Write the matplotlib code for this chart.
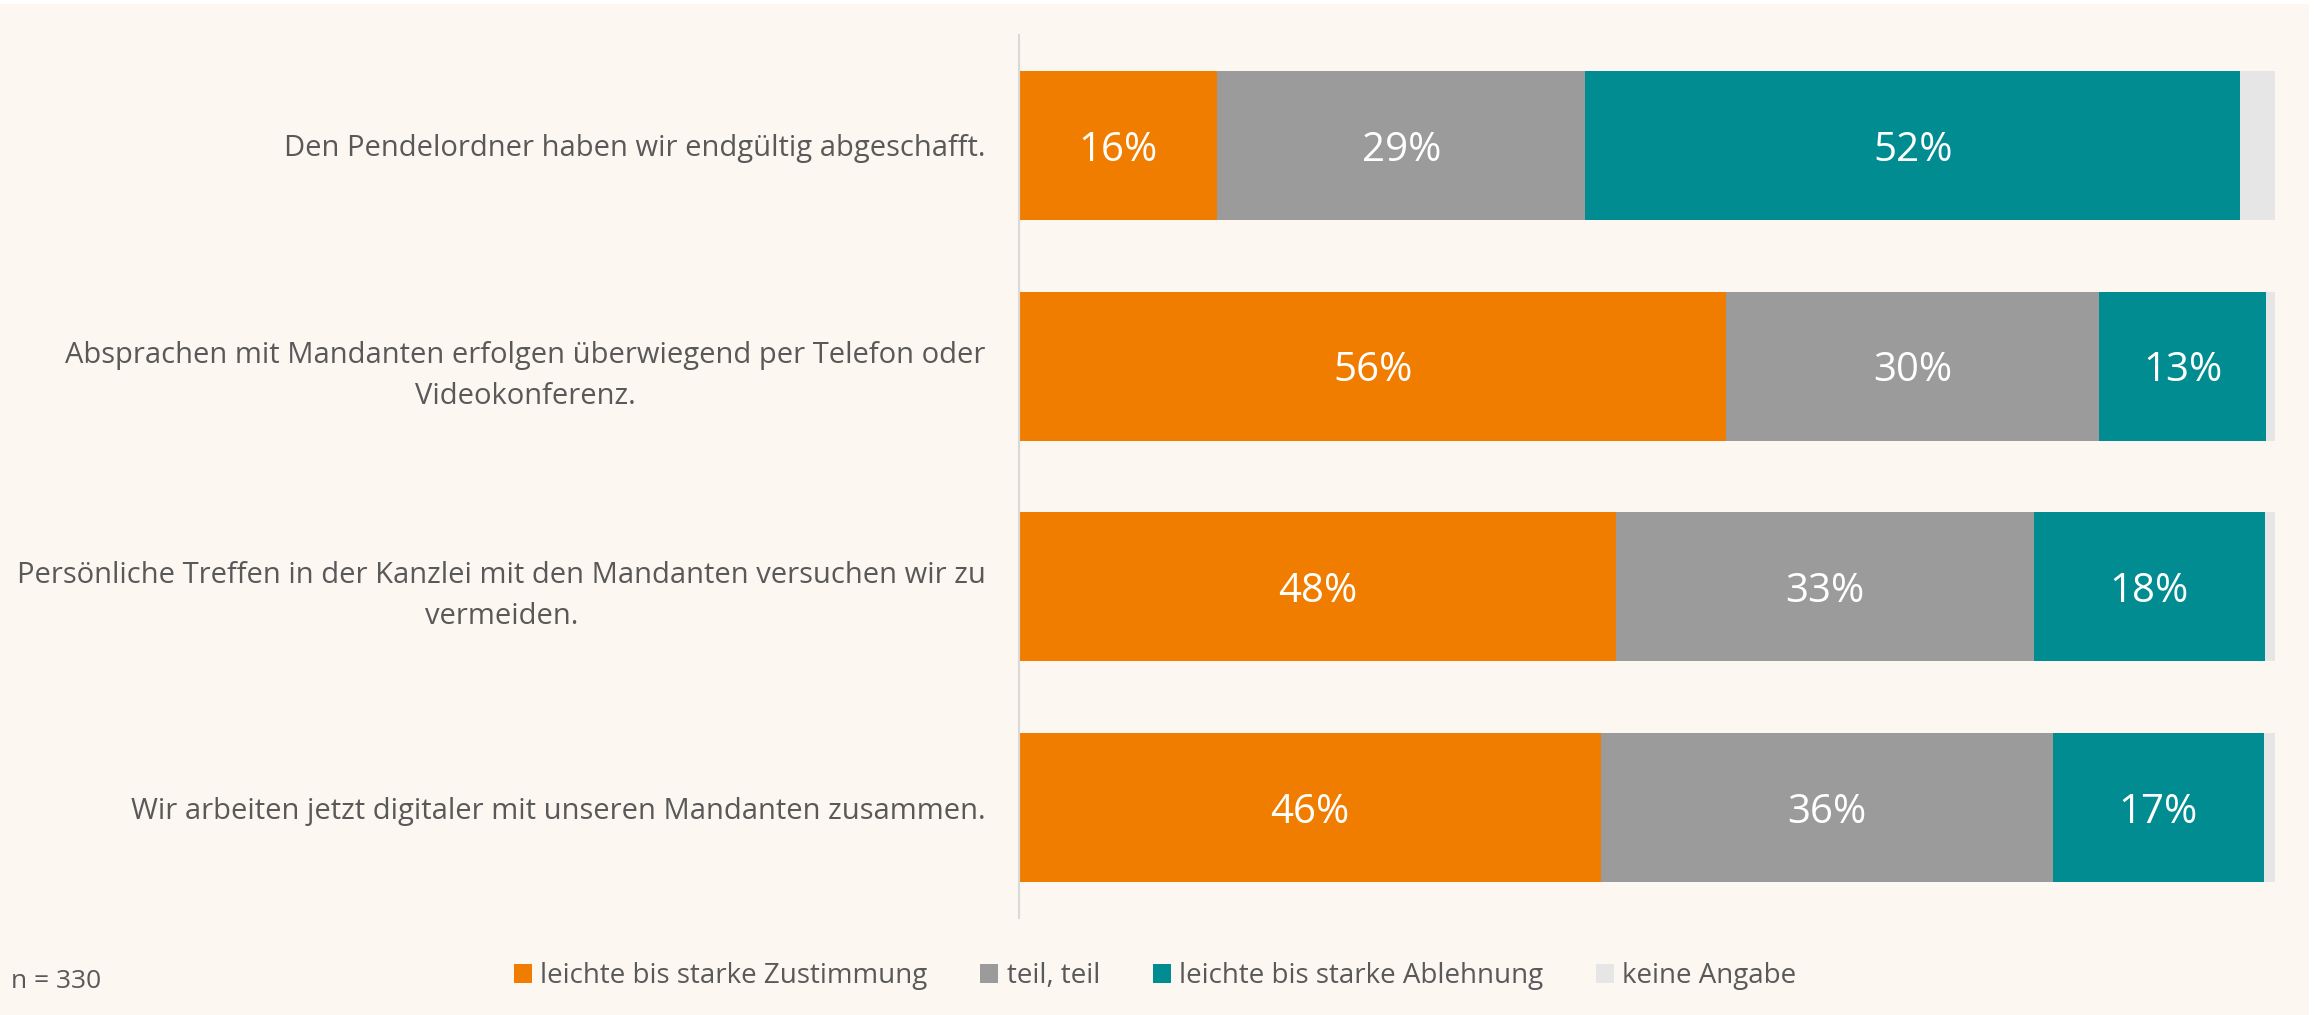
import matplotlib
matplotlib.use("Agg")
import matplotlib.pyplot as plt
from matplotlib.patches import Patch, Rectangle
import numpy as np

plt.rcParams['font.family'] = ['Open Sans', 'DejaVu Sans']

# Daten (Anteile in %)
aussagen = [
    "Den Pendelordner haben wir endgültig abgeschafft.",
    "Absprachen mit Mandanten erfolgen überwiegend per Telefon oder\nVideokonferenz.",
    "Persönliche Treffen in der Kanzlei mit den Mandanten versuchen wir zu\nvermeiden.",
    "Wir arbeiten jetzt digitaler mit unseren Mandanten zusammen.",
]
kategorien = ["leichte bis starke Zustimmung", "teil, teil",
              "leichte bis starke Ablehnung", "keine Angabe"]
zustimmung = [15.8, 56.3, 47.5, 46.3]
teils = [29.3, 29.7, 33.3, 36.0]
ablehnung = [52.1, 13.3, 18.4, 16.8]
keine_angabe = [2.8, 0.7, 0.8, 0.9]
beschriftung = ["16%", "56%", "48%", "46%",
                "29%", "30%", "33%", "36%",
                "52%", "13%", "18%", "17%"]

farben = ["#F07D00", "#9B9B9B", "#008C91", "#E6E6E6"]
hintergrund = "#FCF7F1"
textfarbe = "#595959"

fig = plt.figure(figsize=(23.15, 10.15), dpi=100, facecolor="white")
fig.patches.append(Rectangle((0, 0), 2309 / 2315, 1 - 4 / 1015, transform=fig.transFigure,
                             facecolor=hintergrund, edgecolor="none", zorder=-10))

ax = fig.add_axes([1019 / 2315, 0.0956, 1256 / 2315, 0.870])
ax.set_facecolor("none")

y = np.arange(len(aussagen))
serien = [zustimmung, teils, ablehnung, keine_angabe]
links = np.zeros(len(aussagen))
k = 0
for i, werte in enumerate(serien):
    werte = np.array(werte)
    ax.barh(y, werte, left=links, height=0.675, color=farben[i], linewidth=0)
    if i < 3:
        for j in range(len(aussagen)):
            ax.text(links[j] + werte[j] / 2, y[j], beschriftung[k], ha="center",
                    va="center_baseline", color="white", fontsize=29)
            k += 1
    links = links + werte

ax.set_xlim(0, 100)
ax.set_ylim(3.5, -0.5)
ax.set_xticks([])
ax.set_yticks(y)
ax.set_yticklabels(aussagen, fontsize=21, color=textfarbe, multialignment="center",
                   linespacing=1.55)
ax.tick_params(axis="y", length=0, pad=24)
for s in ["top", "right", "bottom"]:
    ax.spines[s].set_visible(False)
ax.spines["left"].set_color("#D9D9D9")
ax.spines["left"].set_linewidth(1.5)

handles = [Patch(facecolor=f, edgecolor="none") for f in farben]
fig.legend(handles, kategorien, loc="center", bbox_to_anchor=(0.499, 0.038), ncol=4,
           frameon=False, fontsize=20, labelcolor=textfarbe, handlelength=0.65,
           handleheight=0.65, handletextpad=0.3, columnspacing=1.9)

fig.text(11 / 2315, 1 - 982 / 1015, "n = 330", fontsize=19, color=textfarbe,
         ha="left", va="center")

fig.savefig("out.png", dpi=100, facecolor="white")
